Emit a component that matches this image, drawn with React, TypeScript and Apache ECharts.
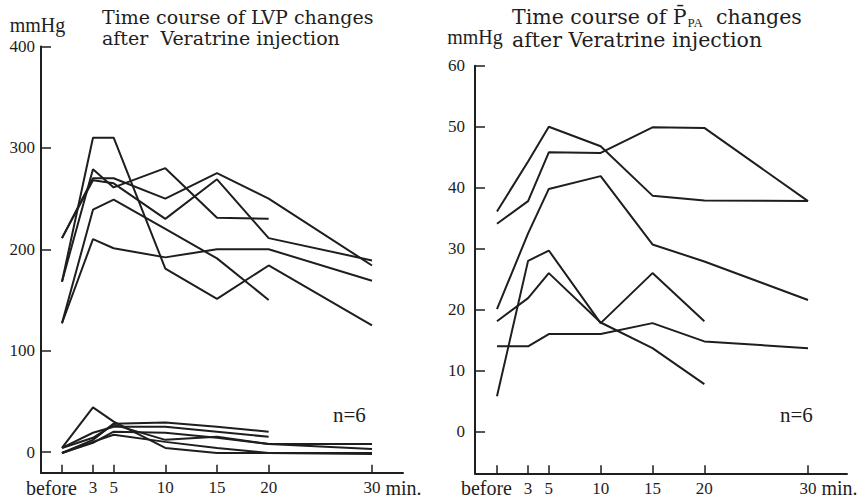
import React, { useEffect, useRef } from "react";
import * as echarts from "echarts";

// ---- data ----
const minutes = [0, 3, 5, 10, 15, 20, 30];
const minuteTicks = [0, 3, 5, 10, 15, 20, 30];
const lvpTicks = [0, 100, 200, 300, 400];
const ppaTicks = [0, 10, 20, 30, 40, 50, 60];

// LVP systolic (upper group), mmHg
const lvpSys1 = [168, 310, 310, 181, 151, 184, 125];
const lvpSys2 = [168, 279, 261, 280, 231, 230];
const lvpSys3 = [211, 270, 270, 250, 275, 250, 184];
const lvpSys4 = [211, 268, 265, 230, 269, 211, 189];
const lvpSys5 = [127, 239, 249, 220, 191, 150];
const lvpSys6 = [127, 210, 201, 192, 200, 200, 169];

// LVP diastolic (lower group), mmHg
const lvpDia1 = [4, 44, 30, 4, -1, -1, -1];
const lvpDia2 = [-1, 12, 28, 29, 25, 20];
const lvpDia3 = [4, 19, 25, 25, 20, 15];
const lvpDia4 = [-1, 9, 20, 19, 14, 8, 8];
const lvpDia5 = [4, 14, 27, 12, 15, 8, 3];
const lvpDia6 = [-1, 10, 17, 10, 4, -1, -2];

// mean pulmonary arterial pressure, mmHg
const ppa1 = [36.1, 44.3, 50, 46.8, 38.7, 37.9, 37.8];
const ppa2 = [34.1, 37.8, 45.8, 45.7, 49.9, 49.8, 37.8];
const ppa3 = [20.1, 32.5, 39.8, 41.9, 30.7, 27.9, 21.6];
const ppa4 = [5.8, 28, 29.7, 17.8, 26, 18.1];
const ppa5 = [18.1, 21.9, 26, 17.9, 13.7, 7.8];
const ppa6 = [14, 14, 16, 16, 17.8, 14.8, 13.7];

const lvpSeries = [lvpSys1, lvpSys2, lvpSys3, lvpSys4, lvpSys5, lvpSys6, lvpDia1, lvpDia2, lvpDia3, lvpDia4, lvpDia5, lvpDia6];
const ppaSeries = [ppa1, ppa2, ppa3, ppa4, ppa5, ppa6];

const INK = "#1e1e1e";
const SERIF = "Liberation Serif, DejaVu Serif, serif";
const TITLE_SERIF = "DejaVu Serif, Liberation Serif, serif";

const pairs = (vals: number[]) => vals.map((v, i) => [minutes[i], v]);

function xAxisOf(gridIndex: number, min: number, max: number) {
  return {
    type: "value",
    gridIndex,
    min,
    max,
    axisLine: { onZero: false, lineStyle: { color: INK, width: 2 } },
    axisTick: { inside: true, length: 8, customValues: minuteTicks, lineStyle: { color: INK, width: 1.5 } },
    axisLabel: {
      customValues: minuteTicks,
      showMinLabel: true,
      showMaxLabel: true,
      hideOverlap: false,
      margin: 4,
      color: INK,
      fontFamily: SERIF,
      fontSize: 17,
      lineHeight: 22,
      formatter: (v: number) => {
        if (v === 0) return "{b|before}";
        if (v === 30) return "{n|30}{u| min.}";
        return String(v);
      },
      rich: {
        b: { fontFamily: SERIF, fontSize: 20, color: INK, lineHeight: 22, width: 30, align: "right" },
        n: { fontFamily: SERIF, fontSize: 17, color: INK, lineHeight: 22, padding: [0, 0, 0, 41] },
        u: { fontFamily: SERIF, fontSize: 20, color: INK, lineHeight: 22 },
      },
    },
    splitLine: { show: false },
  };
}

function yAxisOf(gridIndex: number, min: number, max: number, ticks: number[], margin: number, nameGap: number, namePad: number[]) {
  return {
    type: "value",
    gridIndex,
    min,
    max,
    name: "mmHg",
    nameLocation: "end",
    nameGap,
    nameTextStyle: { fontFamily: SERIF, fontSize: 20, color: INK, padding: namePad },
    axisLine: { onZero: false, lineStyle: { color: INK, width: 2 } },
    axisTick: { inside: true, length: 10, customValues: ticks, lineStyle: { color: INK, width: 1.5 } },
    axisLabel: { customValues: ticks, showMinLabel: true, showMaxLabel: true, margin, color: INK, fontFamily: SERIF, fontSize: 17 },
    splitLine: { show: false },
  };
}

export default function App() {
  const ref = useRef<HTMLDivElement>(null);
  useEffect(() => {
    if (!ref.current) return;
    const chart = echarts.init(ref.current, undefined, { renderer: "svg" });
    const lineStyle = { color: INK, width: 2 };
    const series: any[] = [];
    lvpSeries.forEach((vals, i) =>
      series.push({
        name: "LVP " + (i + 1),
        type: "line",
        xAxisIndex: 0,
        yAxisIndex: 0,
        data: pairs(vals),
        symbol: "none",
        lineStyle,
        silent: true,
      })
    );
    ppaSeries.forEach((vals, i) =>
      series.push({
        name: "PPA " + (i + 1),
        type: "line",
        xAxisIndex: 1,
        yAxisIndex: 1,
        data: pairs(vals),
        symbol: "none",
        lineStyle,
        silent: true,
      })
    );
    chart.setOption({
      animation: false,
      backgroundColor: "#ffffff",
      title: [
        {
          left: 102,
          top: 6,
          padding: 0,
          text: "Time course of LVP changes\nafter  Veratrine injection",
          textStyle: { fontFamily: TITLE_SERIF, fontSize: 19, fontWeight: "normal", color: INK, lineHeight: 21 },
        },
        {
          left: 512,
          top: 5,
          padding: 0,
          text: "Time course of {p|P\u0304}{s|PA}  changes\nafter Veratrine injection",
          textStyle: {
            fontFamily: TITLE_SERIF,
            fontSize: 20.5,
            fontWeight: "normal",
            color: INK,
            lineHeight: 23.5,
            rich: {
              p: { fontFamily: TITLE_SERIF, fontSize: 20.5, color: INK, lineHeight: 23.5 },
              s: { fontFamily: SERIF, fontSize: 13, color: INK, lineHeight: 11, verticalAlign: "bottom", padding: [0, 0, 0, 1] },
            },
          },
        },
      ],
      grid: [
        { left: 41, top: 46.5, width: 362, height: 426.2 },
        { left: 475, top: 65.7, width: 372, height: 407.6 },
      ],
      xAxis: [xAxisOf(0, -2.03, 33.0), xAxisOf(1, -2.12, 33.76)],
      yAxis: [
        yAxisOf(0, -20.4, 400, lvpTicks, 6, 12, [0, 7, 0, 0]),
        yAxisOf(1, -6.82, 60, ppaTicks, 10, 19, [0, 0, 0, 0]),
      ],
      graphic: [
        { type: "text", left: 333, top: 404, style: { text: "n=6", font: "21px Liberation Serif, serif", fill: INK } },
        { type: "text", left: 780, top: 404, style: { text: "n=6", font: "21px Liberation Serif, serif", fill: INK } },
      ],
      series,
    });
    return () => chart.dispose();
  }, []);
  return <div ref={ref} style={{ position: "fixed", left: 0, top: 0, width: 861, height: 500 }} />;
}
